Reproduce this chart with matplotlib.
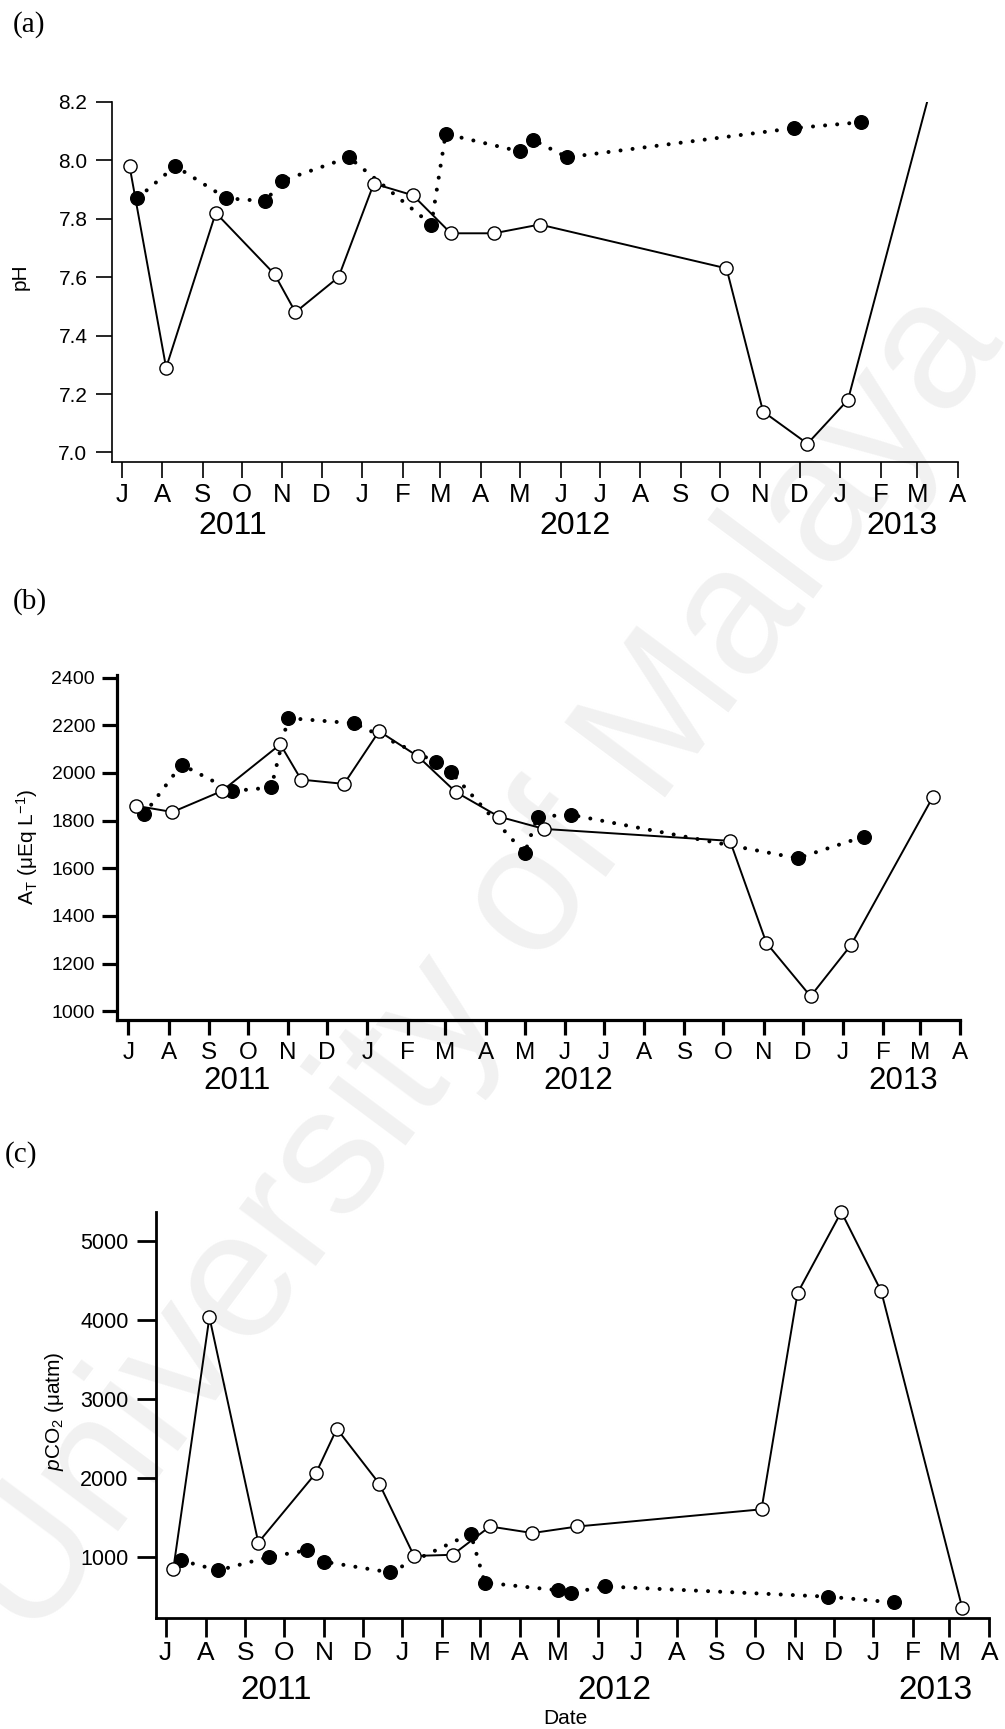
import matplotlib
matplotlib.use('Agg')
import matplotlib.pyplot as plt
import matplotlib.dates as mdates
import datetime as dt

plt.rcParams['font.family'] = ['Liberation Sans', 'DejaVu Sans']
plt.rcParams['mathtext.fontset'] = 'custom'
plt.rcParams['mathtext.rm'] = 'Liberation Sans'
plt.rcParams['mathtext.it'] = 'Liberation Sans:italic'

# ---------------- data ----------------
open_dates = ['2011-07-07', '2011-08-04', '2011-09-11', '2011-10-26', '2011-11-11',
              '2011-12-14', '2012-01-10', '2012-02-09', '2012-03-09', '2012-04-11',
              '2012-05-16', '2012-10-06', '2012-11-03', '2012-12-07', '2013-01-07',
              '2013-03-11']
filled_dates = ['2011-07-13', '2011-08-11', '2011-09-19', '2011-10-19', '2011-11-01',
                '2011-12-22', '2012-02-23', '2012-03-05', '2012-05-01', '2012-05-11',
                '2012-06-06', '2012-11-27', '2013-01-17']

ph_open = [7.98, 7.29, 7.82, 7.61, 7.48, 7.60, 7.92, 7.88, 7.75, 7.75, 7.78,
           7.63, 7.14, 7.03, 7.18, 8.24]
ph_filled = [7.87, 7.98, 7.87, 7.86, 7.93, 8.01, 7.78, 8.09, 8.03, 8.07, 8.01,
             8.11, 8.13]

at_open = [1862, 1836, 1924, 2120, 1972, 1954, 2175, 2069, 1920, 1817, 1765,
           1715, 1287, 1063, 1277, 1898]
at_filled = [1826, 2035, 1924, 1939, 2230, 2208, 2045, 2005, 1664, 1817, 1824,
             1642, 1733]

pco2_open = [855, 4035, 1184, 2068, 2623, 1928, 1014, 1029, 1387, 1304, 1387,
             1604, 4339, 5365, 4362, 354]
pco2_filled = [957, 832, 1000, 1087, 942, 807, 1296, 677, 580, 546, 629, 499, 426]

month_letters = ['J', 'A', 'S', 'O', 'N', 'D', 'J', 'F', 'M', 'A', 'M', 'J',
                 'J', 'A', 'S', 'O', 'N', 'D', 'J', 'F', 'M', 'A']
year_labels = ['2011', '2012', '2013']

ph_ticks = [7.0, 7.2, 7.4, 7.6, 7.8, 8.0, 8.2]
at_ticks = [1000, 1200, 1400, 1600, 1800, 2000, 2200, 2400]
pco2_ticks = [1000, 2000, 3000, 4000, 5000]

# ---------------- layout ----------------
W, H = 1005, 1729
fig = plt.figure(figsize=(W / 100, H / 100), dpi=100)


def fx(px):
    return px / W


def fy(py):
    return 1 - py / H


def d(s):
    return dt.datetime.strptime(s, '%Y-%m-%d')


od = [d(s) for s in open_dates]
fd = [d(s) for s in filled_dates]

month_ticks = []
y, m = 2011, 7
for _ in range(22):
    month_ticks.append(dt.datetime(y, m, 1))
    m += 1
    if m > 12:
        m = 1
        y += 1

# watermark
fig.text(fx(481), fy(966), 'University of Malaya', rotation=53.3, fontsize=130,
         color='#f1f1f1', ha='center', va='center', rotation_mode='anchor',
         zorder=-5)

panels = [
    dict(box=(111.7, 957.7, 101.8, 461.8), ylim=(6.968, 8.2), yt=ph_ticks,
         ytl=['%.1f' % v for v in ph_ticks], op=ph_open, fi=ph_filled,
         xpad_days=7.66, spw=1.2, tl=11.5, ytfs=15, xtfs=18.5, ypad=6, xpad=3.5,
         yfs=23, years=[(233, 525.7), (575, 525.7), (901.7, 525.7)],
         ylabel='pH', ylab_pos=(20, 276.8), letter='(a)', letter_pos=(12.7, 25),
         clip=True),
    dict(box=(117.3, 960, 675.2, 1019.7), ylim=(964.7, 2410), yt=at_ticks,
         ytl=[str(v) for v in at_ticks], op=at_open, fi=at_filled,
         xpad_days=8.46, spw=2.3, tl=11, ytfs=14, xtfs=17.5, ypad=5, xpad=5,
         yfs=22.5, years=[(236.7, 1081.1), (578.3, 1081.1), (902.7, 1081.1)],
         ylabel=r'A$_\mathregular{T}$ (μEq L$^\mathregular{-1}$)', ylab_pos=(27, 847),
         letter='(b)', letter_pos=(12.7, 601.6), clip=False),
    dict(box=(156, 989.3, 1212.1, 1618.2), ylim=(227, 5363), yt=pco2_ticks,
         ytl=[str(v) for v in pco2_ticks], op=pco2_open, fi=pco2_filled,
         xpad_days=7.5, spw=2.0, tl=13.5, ytfs=15.5, xtfs=19, ypad=6.3, xpad=3,
         yfs=24, years=[(276, 1690.4), (614, 1690.4), (935, 1690.4)],
         ylabel=r'$\mathit{p}$CO$_\mathregular{2}$ (μatm)', ylab_pos=(54, 1410.8),
         letter='(c)', letter_pos=(5, 1154.8), clip=False),
]

for p in panels:
    l, r, t, b = p['box']
    ax = fig.add_axes([fx(l), fy(b), (r - l) / W, (b - t) / H])
    ax.patch.set_alpha(0)
    x0 = mdates.date2num(dt.datetime(2011, 7, 1)) - p['xpad_days']
    x1 = mdates.date2num(dt.datetime(2013, 4, 1))
    ax.set_xlim(x0, x1)
    ax.set_ylim(*p['ylim'])

    ax.plot(fd, p['fi'], linestyle=(0, (0.01, 3.0)), dash_capstyle='round',
            color='black', lw=2.9, marker='o', ms=9.8, mfc='black', mec='black',
            zorder=3, clip_on=p['clip'])
    ax.plot(od, p['op'], linestyle='-', color='black', lw=1.4, marker='o',
            ms=9.5, mfc='white', mec='black', mew=1.0, zorder=4,
            clip_on=p['clip'])

    for s in ['top', 'right']:
        ax.spines[s].set_visible(False)
    for s in ['left', 'bottom']:
        ax.spines[s].set_linewidth(p['spw'])
    ax.set_xticks(month_ticks)
    ax.set_xticklabels(month_letters)
    ax.set_yticks(p['yt'])
    ax.set_yticklabels(p['ytl'])
    ax.tick_params(axis='both', direction='out', length=p['tl'], width=p['spw'],
                   color='black')
    ax.tick_params(axis='y', labelsize=p['ytfs'], pad=p['ypad'])
    ax.tick_params(axis='x', labelsize=p['xtfs'], pad=p['xpad'])

    for (yl, (px, py)) in zip(year_labels, p['years']):
        fig.text(fx(px), fy(py), yl, fontsize=p['yfs'], ha='center', va='center')

    fig.text(fx(p['ylab_pos'][0]), fy(p['ylab_pos'][1]), p['ylabel'],
             rotation=90, fontsize=15, ha='center', va='center')
    fig.text(fx(p['letter_pos'][0]), fy(p['letter_pos'][1]), p['letter'],
             fontsize=21, family='Liberation Serif', ha='left', va='center')

fig.text(fx(565.7), fy(1718.3), 'Date', fontsize=15, ha='center', va='center')

fig.savefig('out.png', dpi=100)
